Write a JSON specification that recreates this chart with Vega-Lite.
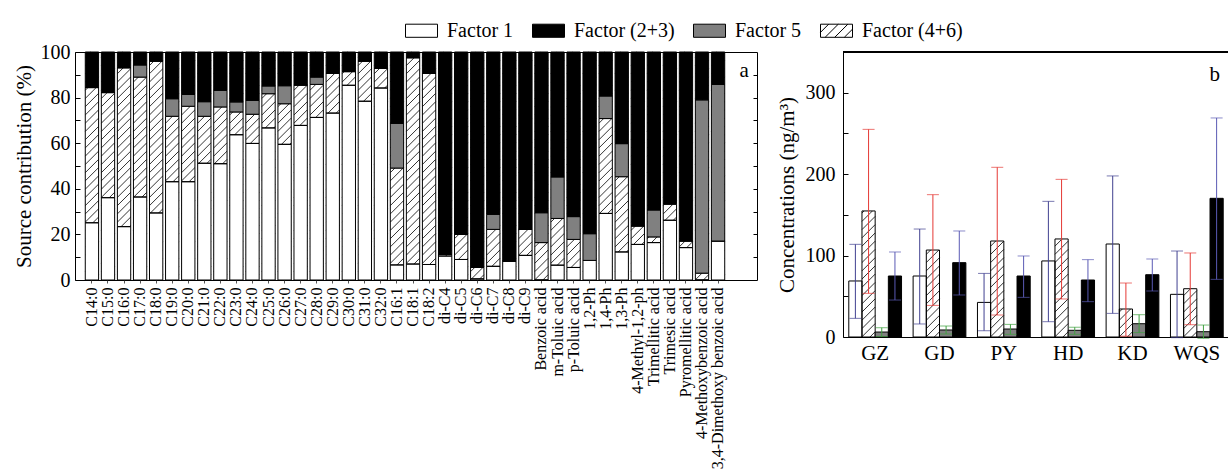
{
  "$schema": "https://vega.github.io/schema/vega-lite/v6.json",
  "padding": {"left": 12, "top": 13, "right": 0, "bottom": 0},
  "bounds": "flush",
  "spacing": 86,
  "config": {
    "font": "Liberation Serif",
    "view": {"stroke": null},
    "axis": {"labelColor": "black", "titleColor": "black", "domainColor": "black", "tickColor": "black", "grid": false, "titleFontWeight": "normal", "labelFont": "Liberation Serif", "titleFont": "Liberation Serif"},
    "legend": {"labelFont": "Liberation Serif", "labelColor": "black"}
  },
  "datasets": {
    "stackorder": [
      {"Factor": "Factor 1", "rank": 1},
      {"Factor": "Factor (4+6)", "rank": 2},
      {"Factor": "Factor 5", "rank": 3},
      {"Factor": "Factor (2+3)", "rank": 4}
    ]
  },
  "hconcat": [
    {
      "width": 682,
      "height": 228,
      "view": {"stroke": "black", "strokeWidth": 1},
      "data": {"values": [
        {"c": "C14:0", "Factor 1": 25.1, "Factor (4+6)": 59.3, "Factor 5": 0, "Factor (2+3)": 15.6},
        {"c": "C15:0", "Factor 1": 36.1, "Factor (4+6)": 46.1, "Factor 5": 0, "Factor (2+3)": 17.8},
        {"c": "C16:0", "Factor 1": 23.4, "Factor (4+6)": 69.7, "Factor 5": 0, "Factor (2+3)": 6.9},
        {"c": "C17:0", "Factor 1": 36.4, "Factor (4+6)": 52.6, "Factor 5": 5.3, "Factor (2+3)": 5.7},
        {"c": "C18:0", "Factor 1": 29.4, "Factor (4+6)": 66.6, "Factor 5": 0, "Factor (2+3)": 4.0},
        {"c": "C19:0", "Factor 1": 43.1, "Factor (4+6)": 28.7, "Factor 5": 7.7, "Factor (2+3)": 20.5},
        {"c": "C20:0", "Factor 1": 43.1, "Factor (4+6)": 33.1, "Factor 5": 5.2, "Factor (2+3)": 18.6},
        {"c": "C21:0", "Factor 1": 51.2, "Factor (4+6)": 20.6, "Factor 5": 6.4, "Factor (2+3)": 21.8},
        {"c": "C22:0", "Factor 1": 51.0, "Factor (4+6)": 24.9, "Factor 5": 7.3, "Factor (2+3)": 16.8},
        {"c": "C23:0", "Factor 1": 63.7, "Factor (4+6)": 10.0, "Factor 5": 4.4, "Factor (2+3)": 21.9},
        {"c": "C24:0", "Factor 1": 59.9, "Factor (4+6)": 12.8, "Factor 5": 6.1, "Factor (2+3)": 21.2},
        {"c": "C25:0", "Factor 1": 66.7, "Factor (4+6)": 15.0, "Factor 5": 3.4, "Factor (2+3)": 14.9},
        {"c": "C26:0", "Factor 1": 59.5, "Factor (4+6)": 17.8, "Factor 5": 7.9, "Factor (2+3)": 14.8},
        {"c": "C27:0", "Factor 1": 67.8, "Factor (4+6)": 17.7, "Factor 5": 0, "Factor (2+3)": 14.5},
        {"c": "C28:0", "Factor 1": 71.3, "Factor (4+6)": 14.5, "Factor 5": 3.2, "Factor (2+3)": 11.0},
        {"c": "C29:0", "Factor 1": 73.2, "Factor (4+6)": 17.4, "Factor 5": 0, "Factor (2+3)": 9.4},
        {"c": "C30:0", "Factor 1": 85.4, "Factor (4+6)": 6.0, "Factor 5": 0, "Factor (2+3)": 8.6},
        {"c": "C31:0", "Factor 1": 78.4, "Factor (4+6)": 17.6, "Factor 5": 0, "Factor (2+3)": 4.0},
        {"c": "C32:0", "Factor 1": 84.2, "Factor (4+6)": 8.6, "Factor 5": 0, "Factor (2+3)": 7.2},
        {"c": "C16:1", "Factor 1": 6.6, "Factor (4+6)": 42.5, "Factor 5": 19.6, "Factor (2+3)": 31.3},
        {"c": "C18:1", "Factor 1": 7.0, "Factor (4+6)": 90.5, "Factor 5": 0, "Factor (2+3)": 2.5},
        {"c": "C18:2", "Factor 1": 6.8, "Factor (4+6)": 83.8, "Factor 5": 0, "Factor (2+3)": 9.4},
        {"c": "di-C4", "Factor 1": 10.5, "Factor (4+6)": 0.7, "Factor 5": 0, "Factor (2+3)": 88.8},
        {"c": "di-C5", "Factor 1": 9.0, "Factor (4+6)": 11.0, "Factor 5": 0, "Factor (2+3)": 80.0},
        {"c": "di-C6", "Factor 1": 0.5, "Factor (4+6)": 5.0, "Factor 5": 0, "Factor (2+3)": 94.5},
        {"c": "di-C7", "Factor 1": 6.0, "Factor (4+6)": 16.2, "Factor 5": 6.6, "Factor (2+3)": 71.2},
        {"c": "di-C8", "Factor 1": 8.3, "Factor (4+6)": 0, "Factor 5": 0, "Factor (2+3)": 91.7},
        {"c": "di-C9", "Factor 1": 10.8, "Factor (4+6)": 11.4, "Factor 5": 0, "Factor (2+3)": 77.8},
        {"c": "Benzoic acid", "Factor 1": 0, "Factor (4+6)": 16.4, "Factor 5": 13.1, "Factor (2+3)": 70.5},
        {"c": "m-Toluic acid", "Factor 1": 6.5, "Factor (4+6)": 20.5, "Factor 5": 18.2, "Factor (2+3)": 54.8},
        {"c": "p-Toluic acid", "Factor 1": 5.5, "Factor (4+6)": 12.3, "Factor 5": 10.0, "Factor (2+3)": 72.2},
        {"c": "1,2-Ph", "Factor 1": 8.6, "Factor (4+6)": 0, "Factor 5": 11.7, "Factor (2+3)": 79.7},
        {"c": "1,4-Ph", "Factor 1": 29.2, "Factor (4+6)": 41.6, "Factor 5": 9.9, "Factor (2+3)": 19.3},
        {"c": "1,3-Ph", "Factor 1": 12.3, "Factor (4+6)": 33.0, "Factor 5": 14.5, "Factor (2+3)": 40.2},
        {"c": "4-Methyl-1,2-ph", "Factor 1": 15.6, "Factor (4+6)": 8.1, "Factor 5": 0, "Factor (2+3)": 76.3},
        {"c": "Trimellitic acid", "Factor 1": 16.4, "Factor (4+6)": 2.5, "Factor 5": 11.8, "Factor (2+3)": 69.3},
        {"c": "Trimesic acid", "Factor 1": 26.2, "Factor (4+6)": 7.0, "Factor 5": 0.4, "Factor (2+3)": 66.4},
        {"c": "Pyromellitic acid", "Factor 1": 14.2, "Factor (4+6)": 2.9, "Factor 5": 0, "Factor (2+3)": 82.9},
        {"c": "4-Methoxybenzoic acid", "Factor 1": 0, "Factor (4+6)": 3.0, "Factor 5": 76.0, "Factor (2+3)": 21.0},
        {"c": "3,4-Dimethoxy benzoic acid", "Factor 1": 17.1, "Factor (4+6)": 0, "Factor 5": 68.7, "Factor (2+3)": 14.2}
      ]},
      "layer": [
        {
          "mark": {"type": "point", "shape": "M-0.058,-0.954L-0.012,-1M-0.058,-0.882L0.058,-0.998M-0.058,-0.81L0.058,-0.926M-0.058,-0.737L0.058,-0.853M-0.058,-0.665L0.058,-0.781M-0.058,-0.593L0.058,-0.709M-0.058,-0.521L0.058,-0.637M-0.058,-0.448L0.058,-0.564M-0.058,-0.376L0.058,-0.492M-0.058,-0.304L0.058,-0.42M-0.058,-0.231L0.058,-0.347M-0.058,-0.159L0.058,-0.275M-0.058,-0.087L0.058,-0.203M-0.058,-0.014L0.058,-0.13M-0.058,0.058L0.058,-0.058M-0.058,0.13L0.058,0.014M-0.058,0.203L0.058,0.087M-0.058,0.275L0.058,0.159M-0.058,0.347L0.058,0.231M-0.058,0.42L0.058,0.304M-0.058,0.492L0.058,0.376M-0.058,0.564L0.058,0.448M-0.058,0.637L0.058,0.521M-0.058,0.709L0.058,0.593M-0.058,0.781L0.058,0.665M-0.058,0.853L0.058,0.737M-0.058,0.926L0.058,0.81M-0.058,0.998L0.058,0.882M0.012,1L0.058,0.954", "size": 51984, "filled": false, "stroke": "black", "strokeWidth": 0.8, "opacity": 1},
          "encoding": {
            "x": {"field": "c", "type": "nominal", "sort": null, "title": null,
                  "scale": {"range": [0, 660], "paddingInner": 0.17, "paddingOuter": 0.64},
                  "axis": {"labelAngle": 270, "labelFontSize": 16, "labelPadding": 4, "ticks": true, "tickSize": 3, "tickColor": "#555", "domain": false, "labelLimit": 200}},
            "y": {"datum": 50, "type": "quantitative", "scale": {"domain": [0, 100], "nice": false}, "axis": null}
          }
        },
        {
          "transform": [
            {"fold": ["Factor 1", "Factor (4+6)", "Factor 5", "Factor (2+3)"], "as": ["Factor", "pct"]},
            {"lookup": "Factor", "from": {"data": {"name": "stackorder"}, "key": "Factor", "fields": ["rank"]}}
          ],
          "mark": {"type": "bar", "stroke": "black", "strokeWidth": 1},
          "encoding": {
            "x": {"field": "c", "type": "nominal", "sort": null, "title": null},
            "y": {"field": "pct", "type": "quantitative", "stack": "zero",
                  "axis": {"orient": "left", "values": [0, 10, 20, 30, 40, 50, 60, 70, 80, 90, 100], "labelExpr": "datum.value % 20 === 0 ? datum.label : ''", "tickSize": -5, "labelPadding": 10, "labelFontSize": 20, "domain": false, "title": "Source contribution (%)", "titleFontSize": 21, "titlePadding": 6}},
            "order": {"field": "rank", "type": "quantitative", "sort": "ascending"},
            "fill": {"field": "Factor", "type": "nominal",
                     "scale": {"domain": ["Factor 1", "Factor (2+3)", "Factor 5", "Factor (4+6)"], "range": ["white", "black", "#808080", "transparent"]},
                     "legend": {"orient": "none", "legendX": 330, "legendY": -38, "direction": "horizontal", "title": null, "labelFontSize": 20, "symbolSize": 1024, "labelOffset": 9, "columnPadding": 16, "symbolStrokeColor": "black", "symbolStrokeWidth": 1,
                                "encode": {"symbols": {"update": {"shape": {"signal": "datum.value === 'Factor (4+6)' ? 'M-1,-0.41H1V0.41H-1ZM-1,0.1L-0.49,-0.41M-0.71,0.41L0.11,-0.41M-0.11,0.41L0.71,-0.41M0.49,0.41L1,-0.1' : 'M-1,-0.41H1V0.41H-1Z'"}, "stroke": {"value": "black"}, "strokeWidth": {"value": 1}}}}}}
          }
        },
        {
          "transform": [{"filter": {"field": "c", "equal": "3,4-Dimethoxy benzoic acid"}}],
          "mark": {"type": "text", "text": "a", "fontSize": 21, "dx": 26, "color": "black"},
          "encoding": {
            "x": {"field": "c", "type": "nominal", "sort": null, "title": null},
            "y": {"datum": 91.7, "type": "quantitative", "axis": {"orient": "right", "values": [10, 20, 30, 40, 50, 60, 70, 80, 90], "labels": false, "tickSize": -4, "domain": false, "title": null}}
          }
        }
      ],
      "resolve": {"axis": {"y": "independent"}}
    },
    {
      "width": 386,
      "height": 285,
      "data": {"values": [
        {"site": "GZ", "f": "Factor 1", "mean": 68.8, "lo": 22.9, "hi": 113.8},
        {"site": "GZ", "f": "Factor (4+6)", "mean": 154.8, "lo": 53.6, "hi": 255.0},
        {"site": "GZ", "f": "Factor 5", "mean": 6.1, "lo": 0.5, "hi": 11.4},
        {"site": "GZ", "f": "Factor (2+3)", "mean": 74.9, "lo": 45.4, "hi": 104.4},
        {"site": "GD", "f": "Factor 1", "mean": 74.9, "lo": 16.0, "hi": 132.6},
        {"site": "GD", "f": "Factor (4+6)", "mean": 106.8, "lo": 38.8, "hi": 174.8},
        {"site": "GD", "f": "Factor 5", "mean": 8.6, "lo": 3.7, "hi": 13.5},
        {"site": "GD", "f": "Factor (2+3)", "mean": 91.3, "lo": 51.6, "hi": 130.2},
        {"site": "PY", "f": "Factor 1", "mean": 42.5, "lo": 7.7, "hi": 78.1},
        {"site": "PY", "f": "Factor (4+6)", "mean": 117.9, "lo": 27.0, "hi": 208.4},
        {"site": "PY", "f": "Factor 5", "mean": 9.8, "lo": 3.3, "hi": 15.5},
        {"site": "PY", "f": "Factor (2+3)", "mean": 74.9, "lo": 48.7, "hi": 99.5},
        {"site": "HD", "f": "Factor 1", "mean": 93.4, "lo": 18.8, "hi": 166.6},
        {"site": "HD", "f": "Factor (4+6)", "mean": 120.4, "lo": 46.7, "hi": 193.6},
        {"site": "HD", "f": "Factor 5", "mean": 8.2, "lo": 3.3, "hi": 12.0},
        {"site": "HD", "f": "Factor (2+3)", "mean": 70.0, "lo": 43.4, "hi": 95.0},
        {"site": "KD", "f": "Factor 1", "mean": 114.2, "lo": 29.0, "hi": 197.8},
        {"site": "KD", "f": "Factor (4+6)", "mean": 34.4, "lo": 1.0, "hi": 66.3},
        {"site": "KD", "f": "Factor 5", "mean": 16.3, "lo": 5.4, "hi": 27.4},
        {"site": "KD", "f": "Factor (2+3)", "mean": 76.5, "lo": 56.5, "hi": 95.8},
        {"site": "WQS", "f": "Factor 1", "mean": 52.4, "lo": -0.8, "hi": 105.6},
        {"site": "WQS", "f": "Factor (4+6)", "mean": 59.3, "lo": 15.1, "hi": 103.2},
        {"site": "WQS", "f": "Factor 5", "mean": 6.5, "lo": -1.6, "hi": 14.7},
        {"site": "WQS", "f": "Factor (2+3)", "mean": 170.3, "lo": 70.8, "hi": 269.0}
      ]},
      "layer": [
        {
          "transform": [{"filter": {"field": "f", "equal": "Factor (4+6)"}}],
          "mark": {"type": "point", "shape": "M-0.058,-0.954L-0.012,-1M-0.058,-0.882L0.058,-0.998M-0.058,-0.81L0.058,-0.926M-0.058,-0.737L0.058,-0.853M-0.058,-0.665L0.058,-0.781M-0.058,-0.593L0.058,-0.709M-0.058,-0.521L0.058,-0.637M-0.058,-0.448L0.058,-0.564M-0.058,-0.376L0.058,-0.492M-0.058,-0.304L0.058,-0.42M-0.058,-0.231L0.058,-0.347M-0.058,-0.159L0.058,-0.275M-0.058,-0.087L0.058,-0.203M-0.058,-0.014L0.058,-0.13M-0.058,0.058L0.058,-0.058M-0.058,0.13L0.058,0.014M-0.058,0.203L0.058,0.087M-0.058,0.275L0.058,0.159M-0.058,0.347L0.058,0.231M-0.058,0.42L0.058,0.304M-0.058,0.492L0.058,0.376M-0.058,0.564L0.058,0.448M-0.058,0.637L0.058,0.521M-0.058,0.709L0.058,0.593M-0.058,0.781L0.058,0.665M-0.058,0.853L0.058,0.737M-0.058,0.926L0.058,0.81M-0.058,0.998L0.058,0.882M0.012,1L0.058,0.954", "size": 51984, "filled": false, "stroke": "black", "strokeWidth": 0.8, "opacity": 1},
          "encoding": {
            "x": {"field": "site", "type": "nominal", "sort": null, "title": null,
                  "scale": {"paddingInner": 0.18, "paddingOuter": 0.09},
                  "axis": {"labelAngle": 0, "labelFontSize": 21, "ticks": false, "labelPadding": 5, "domain": true}},
            "xOffset": {"field": "f", "type": "nominal", "scale": {"domain": ["Factor 1", "Factor (4+6)", "Factor 5", "Factor (2+3)"], "paddingInner": 0, "paddingOuter": 0}},
            "y": {"datum": 140, "type": "quantitative", "title": "Concentrations (ng/m³)",
                  "scale": {"domain": [0, 350], "nice": false},
                  "axis": {"values": [0, 50, 100, 150, 200, 250, 300], "labelExpr": "datum.value % 100 === 0 ? datum.label : ''", "tickSize": -5, "labelPadding": 13, "labelFontSize": 20, "domain": true, "titleFontSize": 21, "titlePadding": 8}}
          }
        },
        {
          "transform": [{"filter": {"field": "f", "equal": "Factor (4+6)"}}],
          "mark": {"type": "bar", "fill": "white", "strokeWidth": 0, "width": 17},
          "encoding": {
            "x": {"field": "site", "type": "nominal", "sort": null, "title": null},
            "xOffset": {"field": "f", "type": "nominal"},
            "y": {"field": "mean", "type": "quantitative", "stack": null, "title": "Concentrations (ng/m³)"},
            "y2": {"datum": 283}
          }
        },
        {
          "mark": {"type": "bar", "stroke": "black", "strokeWidth": 1},
          "encoding": {
            "x": {"field": "site", "type": "nominal", "sort": null, "title": null},
            "xOffset": {"field": "f", "type": "nominal"},
            "y": {"field": "mean", "type": "quantitative", "stack": null, "title": "Concentrations (ng/m³)"},
            "fill": {"field": "f", "type": "nominal", "scale": {"domain": ["Factor 1", "Factor (4+6)", "Factor 5", "Factor (2+3)"], "range": ["white", "transparent", "#808080", "black"]}, "legend": null}
          }
        },
        {
          "mark": {"type": "rule", "strokeWidth": 1},
          "encoding": {
            "x": {"field": "site", "type": "nominal", "sort": null, "title": null},
            "xOffset": {"field": "f", "type": "nominal"},
            "y": {"field": "lo", "type": "quantitative", "title": "Concentrations (ng/m³)"},
            "y2": {"field": "hi"},
            "color": {"field": "f", "type": "nominal", "scale": {"domain": ["Factor 1", "Factor (4+6)", "Factor 5", "Factor (2+3)"], "range": ["#404090", "#e53935", "#3f9f3f", "#5a5ab4"]}, "legend": null}
          }
        },
        {
          "mark": {"type": "tick", "thickness": 1, "size": 12},
          "encoding": {
            "x": {"field": "site", "type": "nominal", "sort": null, "title": null},
            "xOffset": {"field": "f", "type": "nominal"},
            "y": {"field": "lo", "type": "quantitative", "title": "Concentrations (ng/m³)"},
            "color": {"field": "f", "type": "nominal", "legend": null}
          }
        },
        {
          "mark": {"type": "tick", "thickness": 1, "size": 12},
          "encoding": {
            "x": {"field": "site", "type": "nominal", "sort": null, "title": null},
            "xOffset": {"field": "f", "type": "nominal"},
            "y": {"field": "hi", "type": "quantitative", "title": "Concentrations (ng/m³)"},
            "color": {"field": "f", "type": "nominal", "legend": null}
          }
        },
        {
          "mark": {"type": "rule", "color": "black", "strokeWidth": 1},
          "encoding": {"y": {"datum": 350, "type": "quantitative", "title": "Concentrations (ng/m³)"}}
        },
        {
          "transform": [{"filter": {"and": [{"field": "site", "equal": "WQS"}, {"field": "f", "equal": "Factor 1"}]}}],
          "mark": {"type": "text", "text": "b", "fontSize": 21, "dx": 18, "color": "black"},
          "encoding": {
            "x": {"field": "site", "type": "nominal", "sort": null, "title": null},
            "y": {"datum": 322, "type": "quantitative", "title": "Concentrations (ng/m³)"}
          }
        }
      ]
    }
  ],
  "resolve": {"scale": {"fill": "independent", "color": "independent", "y": "independent", "x": "independent"}, "legend": {"fill": "independent"}}
}
